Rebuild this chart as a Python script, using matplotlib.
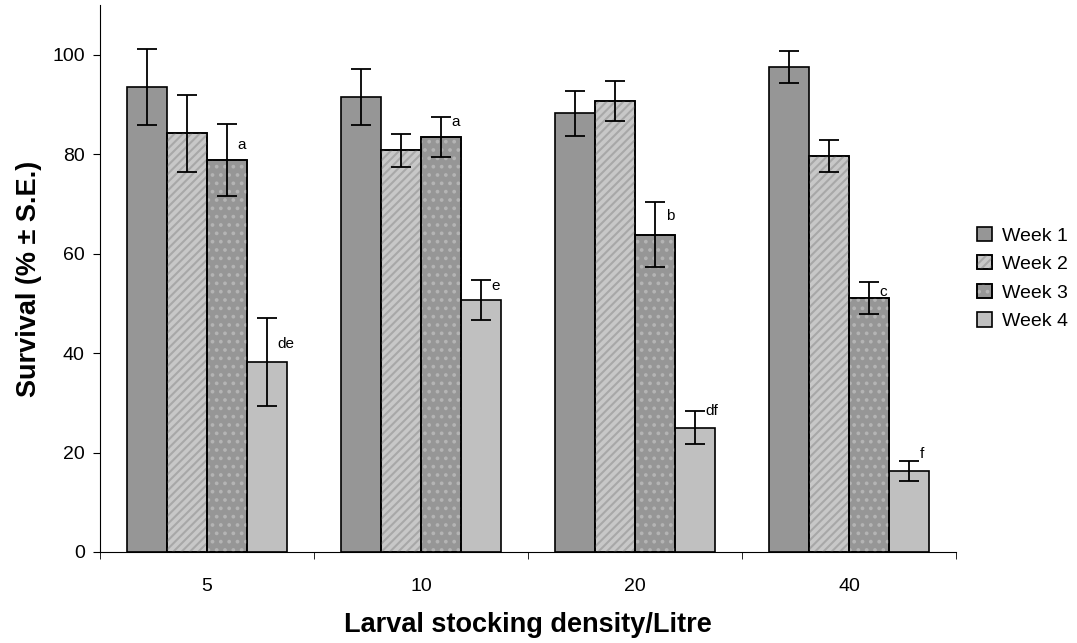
import numpy as np
import matplotlib.pyplot as plt

plt.rcParams['font.family'] = ['Liberation Sans', 'DejaVu Sans']
plt.rcParams['hatch.linewidth'] = 1.5

densities = ['5', '10', '20', '40']
weeks = ['Week 1', 'Week 2', 'Week 3', 'Week 4']
survival = [
    [93.5, 91.5, 88.2, 97.5],
    [84.2, 80.8, 90.7, 79.6],
    [78.8, 83.5, 63.8, 51.0],
    [38.2, 50.7, 25.0, 16.2],
]
se = [
    [7.7, 5.7, 4.5, 3.2],
    [7.7, 3.3, 4.0, 3.2],
    [7.3, 4.0, 6.5, 3.2],
    [8.8, 4.0, 3.3, 2.0],
]
letters_w3 = ['a', 'a', 'b', 'c']
letters_w4 = ['de', 'e', 'df', 'f']
# vertical nudge of each letter relative to the top of its error bar
nudge_w3 = [-4.2, -1.0, -2.8, -2.0]
nudge_w4 = [-5.2, -1.2, 0.0, 1.5]

fills = ['#969696', '#c8c8c8', '#969696', '#c0c0c0']
hatches = [None, '////', '..', None]
hatch_cols = [None, '#a8a8a8', '#b4b4b4', None]

fig = plt.figure(figsize=(10.77, 6.43), dpi=100)
ax = fig.add_axes([100 / 1077, 1 - 552 / 643, 856 / 1077, 547 / 643])

x = np.arange(len(densities))
w = 0.187
handles = []
for i in range(4):
    pos = x + (i - 1.5) * w
    base = ax.bar(pos, survival[i], w, color=fills[i], edgecolor='black', linewidth=1.2,
                  zorder=2)
    h = [base[0]]
    if hatches[i]:
        hb = ax.bar(pos, survival[i], w, color='none', edgecolor=hatch_cols[i],
                    hatch=hatches[i], linewidth=0, zorder=3)
        ob = ax.bar(pos, survival[i], w, color='none', edgecolor='black',
                    linewidth=1.2, zorder=4)
        h += [hb[0], ob[0]]
    handles.append(tuple(h))
    ax.errorbar(pos, survival[i], yerr=se[i], fmt='none', ecolor='black',
                elinewidth=1.3, capsize=7, capthick=1.3, zorder=5)

for j in range(4):
    p3 = x[j] + 0.5 * w
    ax.text(p3 + 0.05, survival[2][j] + se[2][j] + nudge_w3[j], letters_w3[j],
            fontsize=11, ha='left', va='center')
    p4 = x[j] + 1.5 * w
    ax.text(p4 + 0.05, survival[3][j] + se[3][j] + nudge_w4[j], letters_w4[j],
            fontsize=11, ha='left', va='center')

ax.set_xlim(-0.5, 3.5)
ax.set_ylim(0, 110)
ax.set_yticks(range(0, 101, 20))
ax.set_xticks(x)
ax.set_xticklabels(densities)
ax.set_xticks(np.arange(-0.5, 4.0, 1.0), minor=True)
ax.tick_params(axis='x', which='major', length=0, pad=19, labelsize=14)
ax.tick_params(axis='x', which='minor', length=5, direction='out')
ax.tick_params(axis='y', length=5, pad=6, labelsize=14)
ax.spines['top'].set_visible(False)
ax.spines['right'].set_visible(False)

ax.set_xlabel('Larval stocking density/Litre', fontsize=19.5, fontweight='bold', labelpad=12)
ax.set_ylabel('Survival (% \u00b1 S.E.)', fontsize=19.5, fontweight='bold', labelpad=7)

ax.legend(handles, weeks, loc='center left', bbox_to_anchor=(1.025, 0.5), frameon=False,
          fontsize=14, handlelength=0.75, handleheight=0.75, handletextpad=0.5,
          labelspacing=0.55, borderaxespad=0, borderpad=0)

fig.savefig('out.png', dpi=100)
